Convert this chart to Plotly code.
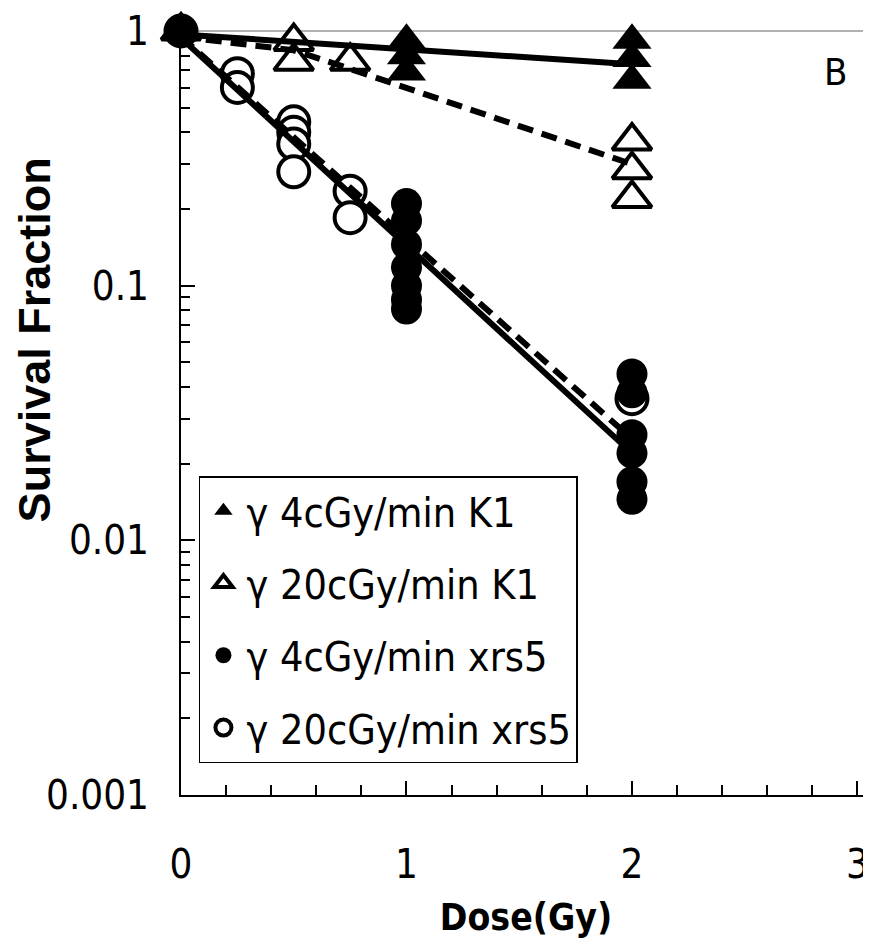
import plotly.graph_objects as go

# ---- data ----
dose_k1_4 = [0, 1, 1, 1, 2, 2, 2]
sf_k1_4 = [1.0, 0.92, 0.80, 0.69, 0.92, 0.78, 0.64]

dose_k1_20 = [0, 0.5, 0.5, 0.75, 2, 2, 2]
sf_k1_20 = [1.0, 0.91, 0.76, 0.76, 0.37, 0.285, 0.22]

dose_x_4 = [0, 1, 1, 1, 1, 1, 1, 1, 2, 2, 2, 2, 2, 2]
sf_x_4 = [1.0, 0.21, 0.18, 0.145, 0.118, 0.10, 0.088, 0.081,
          0.045, 0.038, 0.026, 0.022, 0.017, 0.0145]

dose_x_20 = [0, 0.25, 0.25, 0.5, 0.5, 0.5, 0.5, 0.75, 0.75, 2]
sf_x_20 = [1.0, 0.68, 0.60, 0.44, 0.40, 0.36, 0.28, 0.235, 0.185, 0.036]

fit_k1_4_dose = [0, 2]
fit_k1_4_sf = [0.97, 0.74]
fit_k1_20_dose = [0, 0.5, 0.75, 2]
fit_k1_20_sf = [0.95, 0.84, 0.71, 0.30]
fit_x_4_dose = [0, 2]
fit_x_4_sf = [0.94, 0.022]
fit_x_20_dose = [0, 2]
fit_x_20_sf = [0.95, 0.025]

labels = ["γ 4cGy/min K1", "γ 20cGy/min K1", "γ 4cGy/min xrs5", "γ 20cGy/min xrs5"]
ytick_vals = [0.001, 0.01, 0.1, 1]
ytick_text = ["0.001", "0.01", "0.1", "1"]
xtick_vals = [0, 1, 2, 3]

NARROW = "Liberation Sans Narrow, DejaVu Sans Condensed, Arial Narrow, sans-serif"

fig = go.Figure()

fig.add_trace(go.Scatter(x=dose_x_20, y=sf_x_20, mode="markers", name=labels[3],
                         legendrank=4, legendgroup="d", cliponaxis=False,
                         marker=dict(symbol="circle", size=31, color="white",
                                     line=dict(color="black", width=4))))
fig.add_trace(go.Scatter(x=dose_k1_20, y=sf_k1_20, mode="markers", name=labels[1],
                         legendrank=2, legendgroup="b", cliponaxis=False,
                         marker=dict(symbol="triangle-up", size=34, color="white",
                                     line=dict(color="black", width=4))))
fig.add_trace(go.Scatter(x=dose_x_4, y=sf_x_4, mode="markers", name=labels[2],
                         legendrank=3, legendgroup="c", cliponaxis=False,
                         marker=dict(symbol="circle", size=31, color="black",
                                     line=dict(color="black", width=0))))
fig.add_trace(go.Scatter(x=dose_k1_4, y=sf_k1_4, mode="markers", name=labels[0],
                         legendrank=1, legendgroup="a", cliponaxis=False,
                         marker=dict(symbol="triangle-up", size=34, color="black",
                                     line=dict(color="black", width=0))))

fig.add_trace(go.Scatter(x=fit_k1_4_dose, y=fit_k1_4_sf, mode="lines", showlegend=False,
                         line=dict(color="black", width=6)))
fig.add_trace(go.Scatter(x=fit_k1_20_dose, y=fit_k1_20_sf, mode="lines", showlegend=False,
                         line=dict(color="black", width=6, dash="16px,9px")))
fig.add_trace(go.Scatter(x=fit_x_20_dose, y=fit_x_20_sf, mode="lines", showlegend=False,
                         line=dict(color="black", width=6, dash="16px,9px")))
fig.add_trace(go.Scatter(x=fit_x_4_dose, y=fit_x_4_sf, mode="lines", showlegend=False,
                         line=dict(color="black", width=6)))

fig.update_layout(
    width=863, height=937,
    margin=dict(l=173, r=0, t=23, b=150, autoexpand=False),
    paper_bgcolor="white", plot_bgcolor="white",
    font=dict(family=NARROW, color="black"),
    showlegend=True,
    legend=dict(x=0.026, y=0.4175, xanchor="left", yanchor="top",
                bordercolor="black", borderwidth=1.5, bgcolor="white",
                font=dict(family=NARROW, size=41, color="black"),
                tracegroupgap=16, itemwidth=36, traceorder="grouped"),
    xaxis=dict(range=[0, 3.06], tickvals=xtick_vals, ticks="inside", ticklen=14,
               tickwidth=1.5, tickcolor="black", showline=True, linecolor="black",
               linewidth=2, showgrid=False, zeroline=False, automargin=False,
               tickfont=dict(family=NARROW, size=40), ticklabelstandoff=33,
               ticklabeloverflow="allow",
               minor=dict(dtick=0.2, ticks="inside", ticklen=10, tickwidth=1.5,
                          tickcolor="black", showgrid=False),
               title=dict(text="Dose(Gy)", font=dict(family=NARROW, size=37, weight="bold"),
                          standoff=18)),
    yaxis=dict(type="log", range=[-3, 0], tickvals=ytick_vals, ticktext=ytick_text,
               ticks="inside", ticklen=14, tickwidth=1.5, tickcolor="black",
               showline=True, linecolor="black", linewidth=2, showgrid=False,
               zeroline=False, automargin=False, tickfont=dict(family=NARROW, size=40),
               ticklabelstandoff=22,
               minor=dict(dtick="D1", ticks="inside", ticklen=9, tickwidth=1.5,
                          tickcolor="black", showgrid=False)),
    shapes=[dict(type="line", xref="paper", yref="paper", x0=0, x1=1, y0=1, y1=1,
                 line=dict(color="#999999", width=1.5), layer="below")],
    annotations=[
        dict(text="B", xref="paper", yref="paper", x=0.948, y=0.946,
             xanchor="center", yanchor="middle",
             showarrow=False, font=dict(family=NARROW, size=38, color="black")),
        dict(text="Survival Fraction", xref="paper", yref="paper", x=-0.212, y=0.596,
             xanchor="center", yanchor="middle", textangle=-90, showarrow=False,
             font=dict(family="Liberation Sans, Arial, sans-serif", size=45,
                       weight="bold", color="black")),
    ],
)

fig.write_html("out.html")
